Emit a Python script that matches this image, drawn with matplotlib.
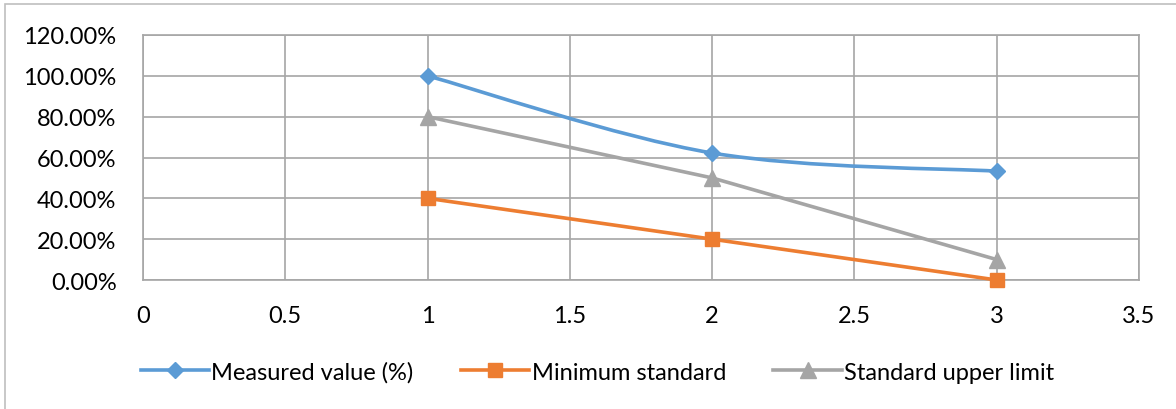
import matplotlib.pyplot as plt
import numpy as np
from matplotlib.path import Path
from matplotlib.patches import PathPatch, Rectangle
from matplotlib.lines import Line2D
from matplotlib.ticker import PercentFormatter

plt.rcParams['font.family'] = ['Lato', 'DejaVu Sans']

x = [1, 2, 3]
measured = [100.0, 62.2, 53.3]
minimum = [40.0, 20.0, 0.0]
upper = [80.0, 50.0, 10.0]
xticks = [0, 0.5, 1, 1.5, 2, 2.5, 3, 3.5]
yticks = [0, 20, 40, 60, 80, 100, 120]

blue = '#5B9BD5'
orange = '#ED7D31'
gray = '#A5A5A5'


def smooth_path(xs, ys):
    # excel-like smoothed line drawn as cubic bezier segments
    pts = np.column_stack([xs, ys])
    verts = [pts[0]]
    codes = [Path.MOVETO]
    n = len(pts)
    for i in range(n - 1):
        p0 = pts[max(i - 1, 0)]
        p1 = pts[i]
        p2 = pts[i + 1]
        p3 = pts[min(i + 2, n - 1)]
        verts += [p1 + (p2 - p0) / 6, p2 - (p3 - p1) / 6, p2]
        codes += [Path.CURVE4] * 3
    return Path(verts, codes)


fig = plt.figure(figsize=(11.76, 4.10), dpi=100)
fig.patches.append(Rectangle((5 / 1176, -0.1), 1.2, 1 - 5 / 410 + 0.1,
                             transform=fig.transFigure, fill=False,
                             edgecolor='#BFBFBF', linewidth=1.2))
ax = fig.add_axes([143 / 1176, 1 - 281 / 410, (1139 - 143) / 1176, (281 - 36) / 410])

ax.add_patch(PathPatch(smooth_path(x, measured), fill=False, edgecolor=blue,
                       linewidth=2.6, zorder=3, capstyle='round', clip_on=False))
ax.plot(x, measured, linestyle='none', marker='D', markersize=8, color=blue,
        zorder=4, clip_on=False)
ax.plot(x, minimum, color=orange, linewidth=2.6, marker='s', markersize=10,
        zorder=3, clip_on=False)
ax.plot(x, upper, color=gray, linewidth=2.6, marker='^', markersize=11,
        zorder=3, clip_on=False)

ax.set_xlim(0, 3.5)
ax.set_ylim(0, 120)
ax.set_xticks(xticks)
ax.set_xticklabels(['0', '0.5', '1', '1.5', '2', '2.5', '3', '3.5'])
ax.set_yticks(yticks)
ax.yaxis.set_major_formatter(PercentFormatter(decimals=2))
ax.grid(True, color='#A6A6A6', linewidth=1.2)
ax.set_axisbelow(True)
for s in ax.spines.values():
    s.set_color('#A6A6A6')
    s.set_linewidth(1.2)
ax.tick_params(length=0, labelsize=17, colors='black')
ax.tick_params(axis='x', pad=18)
ax.tick_params(axis='y', pad=19)

handles = [
    Line2D([], [], color=blue, linewidth=2.6, marker='D', markersize=8),
    Line2D([], [], color=orange, linewidth=2.6, marker='s', markersize=10),
    Line2D([], [], color=gray, linewidth=2.6, marker='^', markersize=11),
]
labels = ['Measured value (%)', 'Minimum standard', 'Standard upper limit']
fig.legend(handles, labels, loc='center', bbox_to_anchor=(0.508, 1 - 373 / 410),
           ncol=3, frameon=False, fontsize=17, handlelength=2.9,
           handletextpad=0.1, columnspacing=2.0)

fig.savefig('out.png', dpi=100)
